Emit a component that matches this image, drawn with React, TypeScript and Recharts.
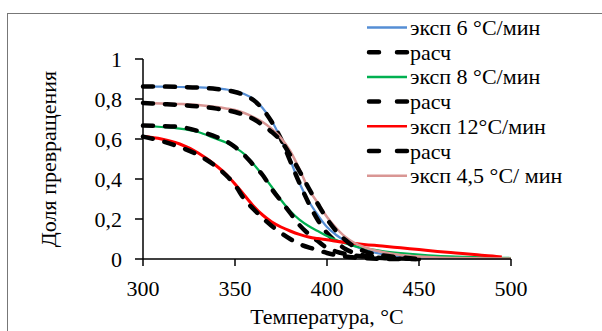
import React from 'react'
import { LineChart, Line, XAxis, YAxis, Legend, Label } from 'recharts'

// temperature grid, °C
const temps = [300, 310, 320, 330, 340, 345, 350, 355, 360, 365, 370, 375, 380, 385, 390, 395, 400, 405, 410, 415, 420, 430, 440, 450, 460, 470, 480, 490, 495, 500]

// experiment
const exp6 = [0.863, 0.862, 0.86, 0.858, 0.853, 0.848, 0.84, 0.825, 0.8, 0.755, 0.69, 0.6, 0.495, 0.38, 0.29, 0.22, 0.16, 0.12, 0.09, 0.065, 0.047, 0.025, 0.012, 0.007, 0.005, 0.004, 0.003, 0.002, 0.002, 0.001]
const exp8 = [0.667, 0.66, 0.652, 0.635, 0.6, 0.583, 0.558, 0.525, 0.475, 0.42, 0.36, 0.295, 0.24, 0.197, 0.165, 0.14, 0.115, 0.095, 0.078, 0.064, 0.054, 0.04, 0.03, 0.022, 0.016, 0.012, 0.009, 0.007, 0.006, 0.005]
const exp12 = [0.612, 0.6, 0.575, 0.53, 0.465, 0.425, 0.375, 0.32, 0.265, 0.22, 0.185, 0.16, 0.14, 0.123, 0.11, 0.102, 0.096, 0.089, 0.083, 0.078, 0.073, 0.065, 0.056, 0.047, 0.038, 0.03, 0.022, 0.015, 0.01, null]
const exp45 = [0.78, 0.778, 0.775, 0.77, 0.76, 0.753, 0.745, 0.73, 0.71, 0.685, 0.65, 0.605, 0.54, 0.45, 0.35, 0.28, 0.21, 0.155, 0.11, 0.08, 0.06, 0.035, 0.02, 0.012, 0.007, 0.005, 0.004, 0.003, 0.002, 0.002]

// calculation
const calc6 = [0.862, 0.862, 0.86, 0.857, 0.85, 0.844, 0.835, 0.82, 0.795, 0.75, 0.685, 0.6, 0.49, 0.38, 0.28, 0.195, 0.13, 0.085, 0.05, 0.03, 0.018, 0.008, 0.003, 0, null, null, null, null, null, null]
const calc8 = [0.667, 0.665, 0.66, 0.64, 0.61, 0.59, 0.56, 0.52, 0.47, 0.42, 0.35, 0.29, 0.23, 0.17, 0.125, 0.09, 0.055, 0.037, 0.025, 0.017, 0.012, 0.005, 0.002, 0, null, null, null, null, null, null]
const calc12 = [0.612, 0.59, 0.56, 0.52, 0.46, 0.42, 0.37, 0.3, 0.25, 0.205, 0.165, 0.13, 0.1, 0.075, 0.058, 0.045, 0.03, 0.02, 0.012, 0.007, 0.004, 0.001, 0, 0, null, null, null, null, null, null]
const calc45 = [0.78, 0.775, 0.77, 0.763, 0.752, 0.744, 0.735, 0.72, 0.7, 0.67, 0.635, 0.59, 0.52, 0.44, 0.355, 0.275, 0.2, 0.14, 0.095, 0.06, 0.04, 0.018, 0.008, 0, null, null, null, null, null, null]

const xTicks = [300, 350, 400, 450, 500]
const yTicks = [0, 0.2, 0.4, 0.6, 0.8, 1]

const data = temps.map((t, i) => ({
  t,
  exp6: exp6[i], calc6: calc6[i],
  exp8: exp8[i], calc8: calc8[i],
  exp12: exp12[i], calc12: calc12[i],
  exp45: exp45[i], calc45: calc45[i],
}))

// series in drawing order; the last calc curve has no legend entry in the original
const series = [
  { key: 'exp6', name: 'эксп 6 °С/мин', color: '#558ED5', width: 2.25, dashed: false, legend: true },
  { key: 'calc6', name: 'расч', color: '#000', width: 4.5, dashed: true, legend: true },
  { key: 'exp8', name: 'эксп 8 °С/мин', color: '#00B050', width: 2.25, dashed: false, legend: true },
  { key: 'calc8', name: 'расч', color: '#000', width: 4.5, dashed: true, legend: true },
  { key: 'exp12', name: 'эксп 12°С/мин', color: '#FF0000', width: 3, dashed: false, legend: true },
  { key: 'calc12', name: 'расч', color: '#000', width: 4.5, dashed: true, legend: true },
  { key: 'exp45', name: 'эксп 4,5 °С/ мин', color: '#D99694', width: 2.5, dashed: false, legend: true },
  { key: 'calc45', name: 'расч', color: '#000', width: 4.5, dashed: true, legend: false },
]

const FONT = 'Liberation Serif, Tinos, Nimbus Roman, Noto Serif, FreeSerif, DejaVu Serif, Times New Roman, serif'
const FS = 22
const DASH = '10 12'

const fmt = (v: number) => String(v).replace('.', ',')

function LegendBox() {
  const items = series.filter(s => s.legend)
  return (
    <svg width={240} height={180}>
      {items.map((it, i) => {
        const cy = 13.5 + i * 24.7
        return (
          <g key={i}>
            <line x1={it.dashed ? 7 : 5} x2={45} y1={cy} y2={cy} stroke={it.color}
              strokeWidth={it.dashed ? 4.5 : 2.5} strokeDasharray={it.dashed ? '10 18' : undefined}
              strokeLinecap={it.dashed ? 'round' : 'butt'} />
            <text x={48} y={cy + 7.5} fontSize={FS} style={{ fontFamily: FONT }} fill="#000">{it.name}</text>
          </g>
        )
      })}
    </svg>
  )
}

function YTitle(props: any) {
  const { x, y, height } = props.viewBox
  const cx = x - 35
  const cy = y + height / 2
  return (
    <text x={cx} y={cy} transform={`rotate(-90 ${cx} ${cy})`} textAnchor="middle" dominantBaseline="central"
      fontSize={FS} style={{ fontFamily: FONT }} fill="#000">Доля превращения</text>
  )
}

export default function App() {
  return (
    <div style={{ position: 'relative', width: 602, height: 331, overflow: 'hidden', background: '#fff', fontFamily: FONT }}>
      <style>{'body{margin:0}'}</style>
      <div style={{ position: 'absolute', left: 7, top: 13, width: 700, height: 400, border: '1px solid #777' }} />
      <div style={{ position: 'absolute', left: 0, top: 0 }}>
        <LineChart width={602} height={331} data={data} margin={{ top: 59, right: 91, bottom: 2, left: 83 }}
          style={{ fontFamily: FONT }}>
          <XAxis dataKey="t" type="number" domain={[300, 500]} ticks={xTicks} height={70}
            tickSize={7} tickMargin={14} stroke="#000" strokeWidth={1.5}
            tick={{ fontSize: FS, fill: '#000', style: { fontFamily: FONT } }}>
            <Label value="Температура, °С" position="insideBottom" offset={5}
              style={{ fontSize: FS, fontFamily: FONT, fill: '#000' }} />
          </XAxis>
          <YAxis type="number" domain={[0, 1]} ticks={yTicks} width={60} tickFormatter={fmt}
            tickSize={8} tickMargin={13} stroke="#000" strokeWidth={1.5}
            tick={{ fontSize: FS, fill: '#000', style: { fontFamily: FONT } }}
            label={<YTitle />} />
          <Legend layout="horizontal" verticalAlign="middle" align="center" content={<LegendBox />}
            wrapperStyle={{ top: 14, left: 362, width: 240, height: 180 }} />
          {series.map(s => (
            <Line key={s.key} dataKey={s.key} name={s.name} stroke={s.color} strokeWidth={s.width}
              strokeDasharray={s.dashed ? DASH : undefined} strokeLinecap={s.dashed ? 'round' : 'butt'}
              dot={false} activeDot={false} type="monotone" isAnimationActive={false} />
          ))}
        </LineChart>
      </div>
    </div>
  )
}
